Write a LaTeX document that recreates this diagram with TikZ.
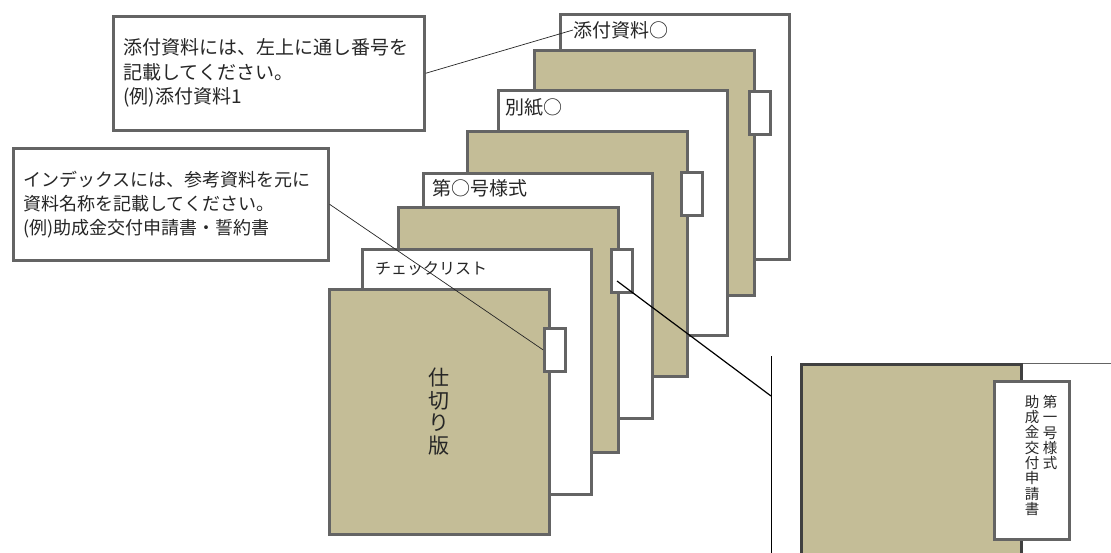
\documentclass[tikz,border=0pt]{standalone}
\usepackage{fontspec}
\setmainfont{Noto Sans CJK JP}
\usetikzlibrary{calc}
\definecolor{tanfill}{HTML}{C4BD97}
\definecolor{bord}{HTML}{646464}
\definecolor{darkbord}{HTML}{404040}
\definecolor{txt}{HTML}{262626}
\begin{document}
\begin{tikzpicture}[x=1pt,y=-1pt,
  whitepg/.style={draw=bord, fill=white, line width=2.6pt, anchor=north west, inner sep=0pt, minimum width=229pt, minimum height=245pt},
  tanpg/.style={draw=bord, fill=tanfill, line width=2.6pt, anchor=north west, inner sep=0pt, minimum width=220pt, minimum height=245pt},
  tabbox/.style={draw=bord, fill=white, line width=2.6pt, anchor=north west, inner sep=0pt, minimum width=21pt, minimum height=43pt},
  pgtitle/.style={anchor=west, inner sep=0pt, text=txt, font=\fontsize{19}{22}\selectfont},
  callout/.style={draw=bord, fill=white, line width=2.6pt, anchor=north west, inner xsep=10pt, inner ysep=0pt, align=left, text=txt},
  leader/.style={draw=black!85, line width=0.7pt},
  vtext/.style={anchor=north, inner sep=0pt, align=center, text=txt, font=\fontsize{14.5}{15.3}\selectfont}
]
\clip (0,0) rectangle (1111,553);
\useasboundingbox (0,0) rectangle (1111,553);
\fill[white] (0,0) rectangle (1111,553);

% stack of pages, back to front
\node[whitepg] (p1) at (559,13) {};
\node[pgtitle] (t1) at (573,30) {添付資料○};
\node[tanpg] (p2) at (533,49) {};
\node[tabbox] (tab2) at (748,90) {};
\node[whitepg] (p3) at (497,89) {};
\node[pgtitle] (t3) at (505,107) {別紙○};
\node[tanpg] (p4) at (466,130) {};
\node[tabbox] (tab4) at (680,171) {};
\node[whitepg] (p5) at (422,172) {};
\node[pgtitle] (t5) at (432,188) {第○号様式};
\node[tanpg] (p6) at (397,206) {};
\node[tabbox] (tab6) at (610,248) {};
\node[whitepg] (p7) at (361,248) {};
\node[pgtitle, font=\fontsize{16}{20}\selectfont] (t7) at (375,269) {チェックリスト};
\node[tanpg, align=center, text=txt, font=\fontsize{21}{22.5}\selectfont] (p8) at (328,288) {仕\\切\\り\\版};
\node[tabbox] (tab8) at (543,327) {};

% callout boxes
\node[callout, minimum width=311pt, minimum height=114pt, text width=291pt,
      font=\fontsize{19}{24.5}\selectfont] (c1) at (112,15)
  {添付資料には、左上に通し番号を\\記載してください。\\(例)添付資料1};
\node[callout, minimum width=315pt, minimum height=112pt, text width=295pt,
      font=\fontsize{18}{24}\selectfont] (c2) at (12,147)
  {インデックスには、参考資料を元に\\資料名称を記載してください。\\(例)助成金交付申請書・誓約書};

% enlarged view
\node[draw=bord, line width=0.8pt, fill=white, anchor=north west, inner sep=0pt,
      minimum width=320pt, minimum height=230pt] (zw) at (830,362.5) {};
\node[draw=darkbord, fill=tanfill, line width=3pt, anchor=north west, inner sep=0pt,
      minimum width=220pt, minimum height=230pt] (zt) at (800,363) {};
\node[draw=bord, fill=white, line width=3pt, anchor=north west, inner sep=0pt,
      minimum width=75pt, minimum height=158pt] (ztab) at (993,380) {};
\node[vtext] (v1) at (1050,395) {第\\一\\号\\様\\式};
\node[vtext] (v2) at (1032,395) {助\\成\\金\\交\\付\\申\\請\\書};

% leaders
\draw[leader] (c1.east) -- (t1.west);
\draw[leader] (c2.east) -- (tab8.west);
\coordinate (k6) at (617,281);
\coordinate (kb) at (771,396);
\coordinate (bartop) at (771,356);
\coordinate (barbot) at (771,560);
\draw[black, line width=1.2pt] (k6) -- (kb);
\draw[black, line width=1pt] (bartop) -- (barbot);
\end{tikzpicture}
\end{document}
